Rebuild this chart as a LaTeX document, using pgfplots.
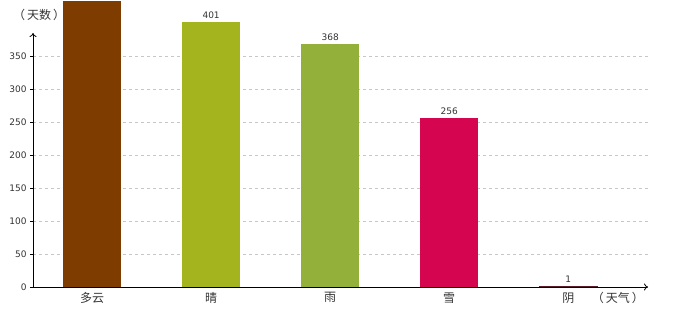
\documentclass[border=0pt]{standalone}
\usepackage{pgfplots}
\pgfplotsset{compat=1.18}
\usetikzlibrary{arrows.meta}
\usepackage{fontspec}
\setmainfont{DejaVu Sans}
\newfontfamily\cjk{Noto Sans CJK SC}
\definecolor{cA}{HTML}{7F3C00}
\definecolor{cB}{HTML}{A3B41F}
\definecolor{cC}{HTML}{93B03B}
\definecolor{cD}{HTML}{D5064F}
\definecolor{cE}{HTML}{5E1A2C}
\definecolor{txt}{HTML}{333333}
\begin{document}
\begin{tikzpicture}
\begin{axis}[
  scale only axis,
  width=615pt, height=254pt,
  xmin=-0.496, xmax=4.67,
  ymin=0, ymax=385,
  clip=false,
  axis x line=bottom, axis y line=left,
  axis line style={black, line width=0.8pt, -{To[length=4pt,width=7pt,open]}},
  ytick={0,50,100,150,200,250,300,350},
  xtick={0,1,2,3,4},
  xticklabels={多云,晴,雨,雪,阴},
  xticklabel style={font=\cjk\fontsize{12}{14}\selectfont, text=txt, yshift=1pt},
  yticklabel style={font=\fontsize{9}{11}\selectfont, text=txt},
  /pgf/number format/assume math mode=true,
  major x tick style={draw=none},
  major y tick style={black},
  major tick length=3pt,
  tick align=outside,
  ymajorgrids,
  grid style={dashed, color=black!22},
  ybar, bar width=58pt, bar shift=0pt,
  every node near coord/.append style={font=\fontsize{9}{11}\selectfont, text=txt},
]
\addplot[fill=cA, draw=none] coordinates {(0,434)};
\addplot[fill=cB, draw=none, nodes near coords] coordinates {(1,401)};
\addplot[fill=cC, draw=none, nodes near coords] coordinates {(2,368)};
\addplot[fill=cD, draw=none, nodes near coords] coordinates {(3,256)};
\addplot[fill=cE, draw=cE, line width=1pt, nodes near coords] coordinates {(4,1)};
\node[font=\cjk\fontsize{12}{14}\selectfont, text=txt] at (rel axis cs:0.01,1.072) {（\,天数\,）};
\node[font=\cjk\fontsize{12}{14}\selectfont, text=txt] at (rel axis cs:0.951,-0.043) {（\,天气\,）};
\path (rel axis cs:-0.0537,-0.13) rectangle (rel axis cs:1.052,1.1299);
\end{axis}
\end{tikzpicture}
\end{document}
